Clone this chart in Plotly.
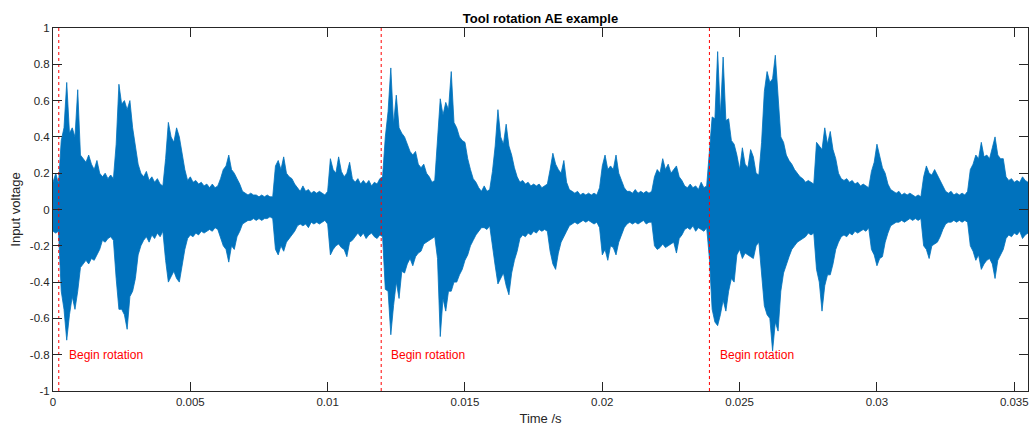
import plotly.graph_objects as go

# time step of the envelope readings (s)
dt = 0.0001

# upper envelope of the AE signal, one reading every 0.1 ms from t = 0
upper = [
    0.15, 0.20, 0.14, 0.38, 0.45, 0.70, 0.42, 0.45, 0.40, 0.66,
    0.30, 0.28, 0.26, 0.30, 0.25, 0.22, 0.27, 0.20, 0.18, 0.20,
    0.17, 0.19, 0.17, 0.36, 0.69, 0.58, 0.60, 0.55, 0.60, 0.45,
    0.35, 0.25, 0.20, 0.18, 0.21, 0.16, 0.18, 0.15, 0.17, 0.14,
    0.13, 0.28, 0.48, 0.40, 0.37, 0.45, 0.40, 0.30, 0.22, 0.16,
    0.18, 0.15, 0.16, 0.14, 0.15, 0.13, 0.14, 0.12, 0.14, 0.12,
    0.13, 0.17, 0.22, 0.24, 0.30, 0.22, 0.20, 0.17, 0.14, 0.10,
    0.09, 0.08, 0.09, 0.08, 0.08, 0.07, 0.08, 0.07, 0.08, 0.07,
    0.07, 0.24, 0.27, 0.22, 0.29, 0.20, 0.18, 0.17, 0.14, 0.12,
    0.10, 0.13, 0.10, 0.11, 0.09, 0.10, 0.09, 0.10, 0.09, 0.08,
    0.10, 0.28, 0.22, 0.20, 0.29, 0.21, 0.18, 0.20, 0.26, 0.17,
    0.15, 0.17, 0.14, 0.16, 0.14, 0.16, 0.13, 0.15, 0.14, 0.17,
    0.18, 0.40, 0.54, 0.78, 0.47, 0.63, 0.45, 0.42, 0.40, 0.36,
    0.32, 0.30, 0.32, 0.25, 0.23, 0.25, 0.20, 0.18, 0.15, 0.16,
    0.41, 0.61, 0.52, 0.59, 0.55, 0.76, 0.48, 0.45, 0.40, 0.38,
    0.37, 0.28, 0.22, 0.17, 0.15, 0.12, 0.10, 0.13, 0.10, 0.11,
    0.21, 0.35, 0.55, 0.40, 0.36, 0.47, 0.35, 0.30, 0.23, 0.18,
    0.15, 0.16, 0.14, 0.15, 0.13, 0.14, 0.13, 0.14, 0.12, 0.13,
    0.14, 0.22, 0.31, 0.25, 0.22, 0.20, 0.27, 0.15, 0.11, 0.10,
    0.09, 0.10, 0.08, 0.09, 0.08, 0.09, 0.08, 0.09, 0.08, 0.12,
    0.24, 0.30, 0.22, 0.24, 0.22, 0.30, 0.20, 0.16, 0.12, 0.10,
    0.10, 0.09, 0.11, 0.09, 0.10, 0.09, 0.10, 0.09, 0.10, 0.18,
    0.22, 0.20, 0.28, 0.22, 0.25, 0.20, 0.22, 0.24, 0.18, 0.16,
    0.13, 0.12, 0.14, 0.12, 0.13, 0.11, 0.15, 0.12, 0.13, 0.34,
    0.51, 0.50, 0.87, 0.52, 0.84, 0.49, 0.50, 0.38, 0.36, 0.30,
    0.22, 0.34, 0.25, 0.23, 0.33, 0.29, 0.20, 0.19, 0.37, 0.65,
    0.76, 0.70, 0.72, 0.85, 0.60, 0.40, 0.37, 0.30, 0.27, 0.25,
    0.22, 0.20, 0.18, 0.17, 0.15, 0.16, 0.15, 0.14, 0.37, 0.35,
    0.33, 0.45, 0.36, 0.43, 0.33, 0.28, 0.20, 0.17, 0.16, 0.17,
    0.15, 0.16, 0.14, 0.15, 0.13, 0.14, 0.13, 0.12, 0.21, 0.26,
    0.36, 0.30, 0.23, 0.20, 0.14, 0.11, 0.10, 0.09, 0.10, 0.08,
    0.09, 0.08, 0.09, 0.08, 0.07, 0.08, 0.07, 0.18, 0.24, 0.20,
    0.19, 0.22, 0.19, 0.16, 0.13, 0.10, 0.09, 0.10, 0.08, 0.09,
    0.08, 0.09, 0.08, 0.10, 0.22, 0.25, 0.30, 0.28, 0.37, 0.29,
    0.30, 0.28, 0.34, 0.40, 0.30, 0.28, 0.28, 0.18, 0.16, 0.17,
    0.15, 0.16, 0.15, 0.18, 0.16, 0.15,
]

# lower envelope of the AE signal, same time points
lower = [
    -0.12, -0.13, -0.12, -0.45, -0.55, -0.72, -0.58, -0.48, -0.55, -0.45,
    -0.32, -0.30, -0.28, -0.30, -0.27, -0.28, -0.25, -0.22, -0.17, -0.18,
    -0.16, -0.15, -0.17, -0.38, -0.55, -0.55, -0.58, -0.66, -0.48, -0.45,
    -0.38, -0.25, -0.20, -0.17, -0.15, -0.18, -0.14, -0.16, -0.13, -0.15,
    -0.12, -0.28, -0.40, -0.37, -0.34, -0.38, -0.40, -0.30, -0.22, -0.16,
    -0.14, -0.15, -0.13, -0.14, -0.12, -0.13, -0.12, -0.11, -0.12, -0.10,
    -0.11, -0.16, -0.20, -0.22, -0.29, -0.20, -0.22, -0.15, -0.12, -0.08,
    -0.07, -0.06, -0.06, -0.05, -0.06, -0.05, -0.06, -0.05, -0.05, -0.04,
    -0.05, -0.22, -0.25, -0.20, -0.23, -0.18, -0.16, -0.14, -0.12, -0.09,
    -0.08, -0.09, -0.08, -0.10, -0.07, -0.08, -0.07, -0.08, -0.07, -0.06,
    -0.08, -0.25, -0.22, -0.20, -0.19, -0.21, -0.22, -0.26, -0.18, -0.17,
    -0.15, -0.13, -0.15, -0.13, -0.16, -0.14, -0.13, -0.15, -0.16, -0.14,
    -0.15, -0.44, -0.45, -0.69, -0.53, -0.40, -0.49, -0.34, -0.35, -0.30,
    -0.27, -0.31, -0.26, -0.24, -0.23, -0.19, -0.18, -0.17, -0.16, -0.15,
    -0.27, -0.70, -0.49, -0.56, -0.45, -0.45, -0.40, -0.40, -0.36, -0.33,
    -0.28, -0.25, -0.20, -0.17, -0.14, -0.12, -0.10, -0.10, -0.11, -0.09,
    -0.20, -0.31, -0.41, -0.38, -0.35, -0.42, -0.47, -0.35, -0.28, -0.23,
    -0.16, -0.14, -0.15, -0.13, -0.14, -0.12, -0.13, -0.11, -0.12, -0.11,
    -0.12, -0.23, -0.30, -0.33, -0.24, -0.18, -0.15, -0.12, -0.09, -0.08,
    -0.07, -0.08, -0.07, -0.06, -0.07, -0.06, -0.07, -0.08, -0.07, -0.10,
    -0.25, -0.22, -0.28, -0.20, -0.21, -0.25, -0.18, -0.14, -0.10, -0.08,
    -0.07, -0.08, -0.07, -0.08, -0.07, -0.06, -0.08, -0.07, -0.07, -0.20,
    -0.22, -0.21, -0.19, -0.21, -0.20, -0.19, -0.18, -0.24, -0.16, -0.14,
    -0.11, -0.10, -0.11, -0.09, -0.12, -0.10, -0.11, -0.12, -0.10, -0.27,
    -0.55, -0.62, -0.64, -0.58, -0.50, -0.56, -0.45, -0.38, -0.40, -0.25,
    -0.22, -0.27, -0.24, -0.25, -0.26, -0.27, -0.20, -0.18, -0.33, -0.53,
    -0.58, -0.60, -0.78, -0.62, -0.67, -0.45, -0.35, -0.30, -0.26, -0.22,
    -0.20, -0.18, -0.17, -0.16, -0.15, -0.13, -0.14, -0.13, -0.33, -0.40,
    -0.56, -0.42, -0.36, -0.36, -0.30, -0.22, -0.18, -0.15, -0.14, -0.15,
    -0.13, -0.14, -0.12, -0.13, -0.12, -0.11, -0.12, -0.10, -0.22, -0.25,
    -0.31, -0.27, -0.26, -0.18, -0.13, -0.09, -0.08, -0.07, -0.07, -0.06,
    -0.07, -0.06, -0.05, -0.06, -0.05, -0.06, -0.05, -0.20, -0.22, -0.27,
    -0.20, -0.19, -0.18, -0.15, -0.11, -0.08, -0.07, -0.07, -0.06, -0.07,
    -0.06, -0.07, -0.06, -0.07, -0.20, -0.23, -0.28, -0.25, -0.33, -0.30,
    -0.28, -0.27, -0.30, -0.38, -0.28, -0.25, -0.22, -0.16, -0.14, -0.15,
    -0.13, -0.14, -0.12, -0.16, -0.14, -0.13,
]

time = [round(i * dt, 6) for i in range(len(upper))]

# begin-rotation markers (s)
rotation_times = [0.00021, 0.01195, 0.0239]
rotation_label = "Begin rotation"
label_offset = 0.0003
label_y = -0.8

x_ticks = [0, 0.005, 0.01, 0.015, 0.02, 0.025, 0.03, 0.035]
x_ticktext = ["0", "0.005", "0.01", "0.015", "0.02", "0.025", "0.03", "0.035"]
y_ticks = [-1, -0.8, -0.6, -0.4, -0.2, 0, 0.2, 0.4, 0.6, 0.8, 1]
y_ticktext = ["-1", "-0.8", "-0.6", "-0.4", "-0.2", "0", "0.2", "0.4", "0.6", "0.8", "1"]

BLUE = "#0072BD"
RED = "#FF0000"
AX = "#262626"
FONT = "Liberation Sans, Arial, sans-serif"

fig = go.Figure()

fig.add_trace(go.Scatter(
    x=time + time[::-1],
    y=upper + lower[::-1],
    mode="lines",
    fill="toself",
    fillcolor=BLUE,
    line=dict(color=BLUE, width=0.8),
    hoverinfo="skip",
    showlegend=False,
))

for rt in rotation_times:
    fig.add_trace(go.Scatter(
        x=[rt, rt], y=[-1, 1], mode="lines",
        line=dict(color=RED, width=1, dash="dot"),
        showlegend=False, hoverinfo="skip",
    ))
    fig.add_annotation(
        x=rt + label_offset, y=label_y, text=rotation_label,
        showarrow=False, xanchor="left", yanchor="middle",
        font=dict(color=RED, size=12, family=FONT),
    )

axis_common = dict(
    showline=True, linecolor=AX, linewidth=1, mirror="ticks",
    ticks="inside", ticklen=9, tickcolor=AX, tickwidth=1,
    showgrid=False, zeroline=False, automargin=False,
    tickfont=dict(size=11.5, color=AX, family=FONT),
)

fig.update_layout(
    width=1035, height=428,
    margin=dict(l=53, r=7, t=28, b=37),
    paper_bgcolor="white", plot_bgcolor="white",
    font=dict(family=FONT, color=AX),
    title=dict(
        text="<b>Tool rotation AE example</b>",
        x=0.5, xanchor="center", xref="paper",
        y=1 - 18 / 428, yanchor="middle",
        font=dict(size=13, color="black", family=FONT),
    ),
    xaxis=dict(
        range=[0, 0.0355], tickvals=x_ticks, ticktext=x_ticktext,
        title=dict(text="Time /s", font=dict(size=13, color=AX, family=FONT), standoff=7),
        **axis_common,
    ),
    yaxis=dict(
        range=[-1, 1], tickvals=y_ticks, ticktext=y_ticktext,
        title=dict(text="Input voltage", font=dict(size=13, color=AX, family=FONT), standoff=6),
        **axis_common,
    ),
)

fig.write_html("out.html")
